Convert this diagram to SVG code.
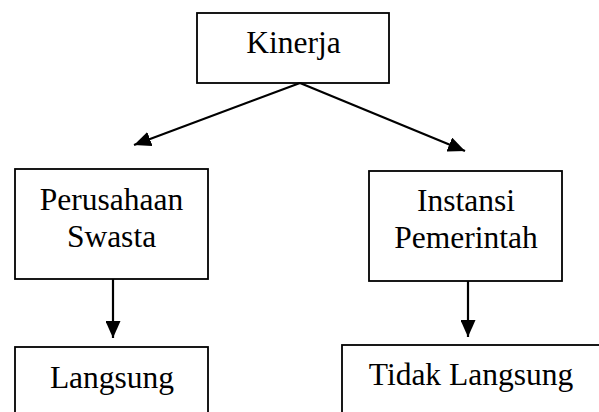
<svg xmlns="http://www.w3.org/2000/svg" width="599" height="412" viewBox="0 0 599 412">
<style>
.box{fill:#fff;stroke:#000;stroke-width:1.8}
.t{font-family:"Liberation Serif","Times New Roman",serif;font-size:31.5px;fill:#000;text-anchor:middle}
.c{stroke:#000;stroke-width:2.2;fill:none;marker-end:url(#ah)}
</style>
<defs>
<marker id="ah" markerUnits="userSpaceOnUse" markerWidth="17" markerHeight="15" refX="17" refY="7.5" orient="auto">
<path d="M0,0 L17,7.5 L0,15 z" fill="#000"/>
</marker>
</defs>
<rect width="599" height="412" fill="#fff"/>
<g id="kinerja"><rect class="box" x="197" y="13" width="192" height="70"/><text class="t" x="293.5" y="53">Kinerja</text></g>
<g id="perusahaan"><rect class="box" x="15" y="169" width="193" height="110"/><text class="t" x="111.5" y="210">Perusahaan</text><text class="t" x="111.5" y="247">Swasta</text></g>
<g id="instansi"><rect class="box" x="369" y="171" width="193" height="110"/><text class="t" x="466" y="211">Instansi</text><text class="t" x="466" y="248">Pemerintah</text></g>
<g id="langsung"><rect class="box" x="15" y="347" width="193" height="80"/><text class="t" x="112" y="388">Langsung</text></g>
<g id="tidak"><rect class="box" x="342" y="345" width="270" height="80"/><text class="t" x="471" y="385">Tidak Langsung</text></g>
<g id="connectors">
<line class="c" x1="300" y1="83" x2="134" y2="145"/>
<line class="c" x1="300" y1="83" x2="465" y2="151"/>
<line class="c" x1="113" y1="279" x2="113" y2="338"/>
<line class="c" x1="468" y1="281" x2="468" y2="337"/>
</g>
</svg>
